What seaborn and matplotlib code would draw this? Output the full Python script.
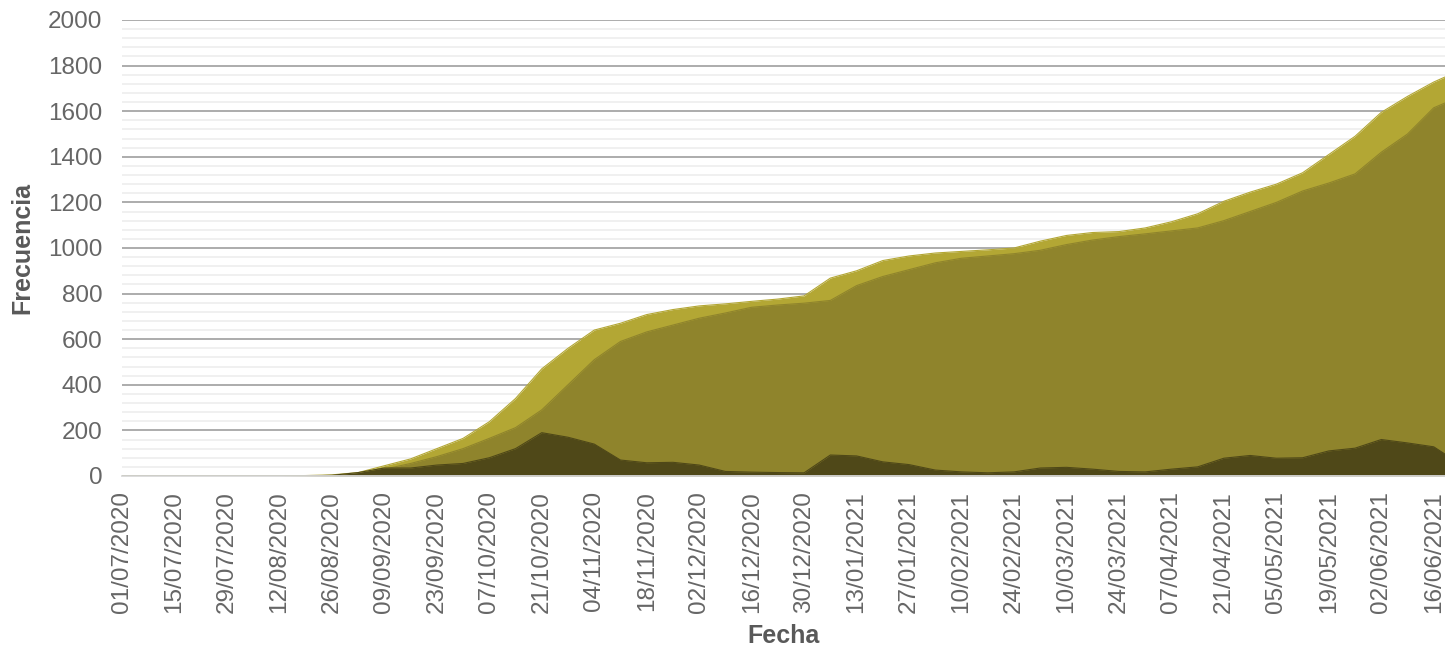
import pandas as pd
import seaborn as sns
import matplotlib.pyplot as plt
import matplotlib.dates as mdates
from matplotlib.ticker import MultipleLocator

# fechas semanales desde 01/07/2020 + ultimo dia
fechas = list(pd.date_range("2020-07-01", periods=51, freq="7D")) + [pd.Timestamp("2021-06-19")]

total = [0, 0, 0, 0, 0, 0, 0,
         2, 5, 15, 45, 75, 120, 165, 238, 340, 470,
         560, 640, 670, 708, 730, 746, 755, 766, 776, 790,
         868, 900, 945, 965, 978, 985, 992, 1000, 1030, 1055,
         1068, 1072, 1088, 1115, 1150, 1205, 1245, 1280, 1330, 1410,
         1490, 1595, 1665, 1728, 1750]

recuperados = [0, 0, 0, 0, 0, 0, 0, 0, 0,
               8, 30, 55, 85, 120, 165, 212, 290,
               400, 510, 590, 632, 662, 692, 715, 740, 750, 758,
               770, 835, 875, 905, 935, 955, 965, 975, 990, 1015,
               1035, 1050, 1062, 1075, 1088, 1120, 1160, 1200, 1250, 1285,
               1325, 1420, 1500, 1615, 1636]

activos = [0, 0, 0, 0, 0, 0, 0, 0,
           3, 15, 35, 35, 48, 55, 80, 120, 190,
           170, 140, 70, 58, 60, 48, 20, 17, 15, 14,
           92, 88, 62, 50, 26, 18, 14, 18, 35, 38,
           30, 20, 18, 30, 40, 78, 90, 78, 80, 110,
           122, 160, 145, 128, 96]

df = pd.DataFrame({"Fecha": fechas, "Total": total,
                   "Recuperados": recuperados, "Activos": activos})

sns.set_style("white")
plt.rcParams["font.family"] = ["Liberation Sans", "DejaVu Sans"]

fig = plt.figure(figsize=(14.45, 6.51), dpi=100)
ax = fig.add_axes([122 / 1445, 1 - 476 / 651, 1 - 122 / 1445, 456 / 651])

colores = {"Total": "#b3a734", "Recuperados": "#8f842c", "Activos": "#4f4818"}
for serie in ["Total", "Recuperados", "Activos"]:
    ax.fill_between(df["Fecha"], 0, df[serie], color=colores[serie], linewidth=0, zorder=3)
    sns.lineplot(data=df, x="Fecha", y=serie, color=colores[serie], linewidth=0.8, ax=ax, zorder=3)

ax.set_ylim(0, 2000)
ax.set_xlim(pd.Timestamp("2020-07-01"), pd.Timestamp("2021-06-19"))
ax.yaxis.set_major_locator(MultipleLocator(200))
ax.yaxis.set_minor_locator(MultipleLocator(40))
ax.grid(which="major", axis="y", color="#a6a6a6", linewidth=1.3, zorder=1)
ax.grid(which="minor", axis="y", color="#efefef", linewidth=1.3, zorder=1)
ax.grid(axis="x", visible=False)

ticks = pd.date_range("2020-07-01", "2021-06-16", freq="14D")
ax.set_xticks(ticks)
ax.xaxis.set_major_formatter(mdates.DateFormatter("%d/%m/%Y"))
ax.tick_params(axis="x", rotation=90, labelsize=17.5, colors="#666666", length=0, pad=11)
ax.tick_params(axis="y", labelsize=17.5, colors="#666666", length=0, pad=14)
ax.tick_params(which="minor", length=0)

for s in ["top", "right", "left"]:
    ax.spines[s].set_visible(False)
ax.spines["bottom"].set_color("#d9d9d9")
ax.spines["bottom"].set_linewidth(1.3)
ax.spines["bottom"].set_zorder(4)

ax.set_xlabel("Fecha", fontsize=18, fontweight="bold", color="#595959", labelpad=8)
ax.set_ylabel("Frecuencia", fontsize=18, fontweight="bold", color="#595959", labelpad=10)

fig.savefig("out.png", dpi=100)
